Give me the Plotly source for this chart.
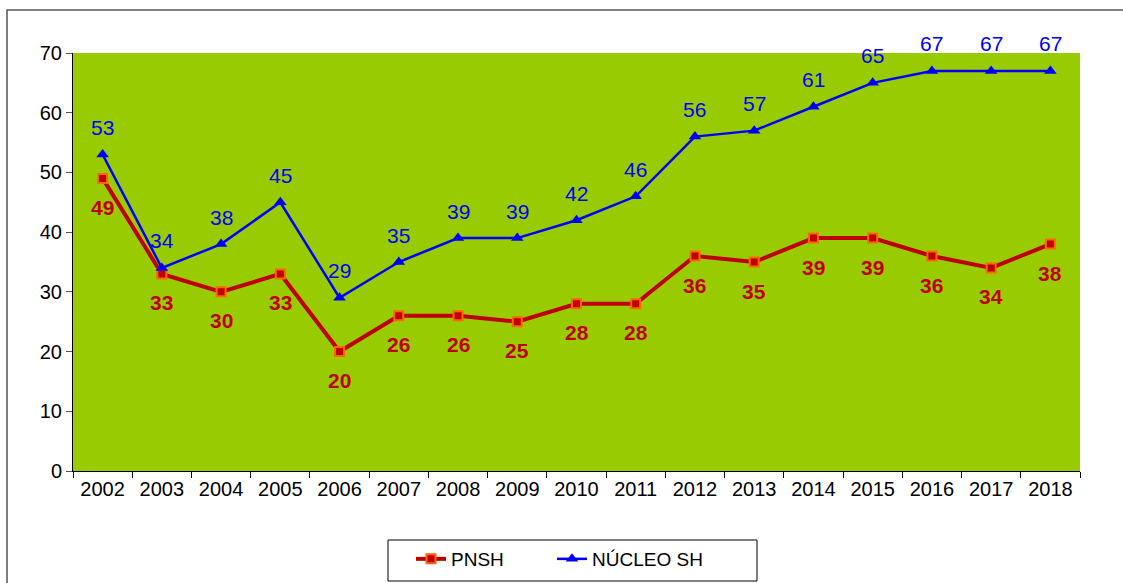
import plotly.graph_objects as go

# Data
years = [str(y) for y in range(2002, 2019)]
pnsh = [49, 33, 30, 33, 20, 26, 26, 25, 28, 28, 36, 35, 39, 39, 36, 34, 38]
nucleo_sh = [53, 34, 38, 45, 29, 35, 39, 39, 42, 46, 56, 57, 61, 65, 67, 67, 67]

col_red = '#C00000'
col_orange = '#FF6600'
col_blue = '#0000FF'
col_bg = '#99CC00'

fig = go.Figure()

fig.add_trace(go.Scatter(
    x=years, y=pnsh, name='PNSH', mode='lines+markers',
    line=dict(color=col_red, width=4),
    marker=dict(symbol='square', size=9, color=col_red,
                line=dict(color=col_orange, width=2)),
    legend='legend',
))

fig.add_trace(go.Scatter(
    x=years, y=nucleo_sh, name='NÚCLEO SH', mode='lines+markers',
    line=dict(color=col_blue, width=2.5),
    marker=dict(symbol='triangle-up', size=11, color=col_blue),
    legend='legend2',
))

# Data labels (category axis -> use serial index for x)
annotations = []
for i, v in enumerate(nucleo_sh):
    annotations.append(dict(x=i, y=v, xref='x', yref='y', text=str(v),
                            showarrow=False, yshift=27,
                            font=dict(color=col_blue, size=21)))
for i, v in enumerate(pnsh):
    annotations.append(dict(x=i, y=v, xref='x', yref='y',
                            text='<b>{}</b>'.format(v), showarrow=False,
                            yshift=-29, font=dict(color=col_red, size=21)))

# plot area in px: x 73..1080, y 53..471
pw, ph = 1007, 418
shapes = [
    # outer frame
    dict(type='rect', xref='paper', yref='paper',
         x0=-66 / pw, x1=1.2, y0=-0.4, y1=461 / ph,
         line=dict(color='#555555', width=1.5), layer='below'),
    # legend box
    dict(type='rect', xref='paper', yref='paper',
         x0=(388 - 73) / pw, x1=(757 - 73) / pw,
         y0=(471 - 581) / ph, y1=(471 - 540) / ph,
         line=dict(color='black', width=1), fillcolor='white', layer='below'),
]

leg_style = dict(orientation='h', xref='container', yref='container',
                 xanchor='left', yanchor='top', y=1 - 540 / 583,
                 borderwidth=0, bgcolor='rgba(0,0,0,0)', font=dict(size=19))

fig.update_layout(
    width=1123, height=583,
    margin=dict(l=73, r=43, t=53, b=112),
    paper_bgcolor='white', plot_bgcolor=col_bg,
    font=dict(family='Liberation Sans, Arial', size=20, color='black'),
    annotations=annotations, shapes=shapes,
    showlegend=True,
    legend=dict(x=411 / 1123, **leg_style),
    legend2=dict(x=552 / 1123, **leg_style),
)

fig.update_xaxes(type='category', tickson='boundaries', ticks='outside',
                 ticklen=6, tickcolor='black', showline=True, linecolor='black',
                 linewidth=1, showgrid=False, range=[-0.5, 16.5])
fig.update_yaxes(range=[0, 70], dtick=10, ticks='outside', ticklen=6,
                 tickcolor='#555555', showline=True, linecolor='black',
                 linewidth=1, showgrid=False, zeroline=False)

fig.write_html('out.html', config={'displayModeBar': False},
               post_script="document.body.style.margin='0px';")
